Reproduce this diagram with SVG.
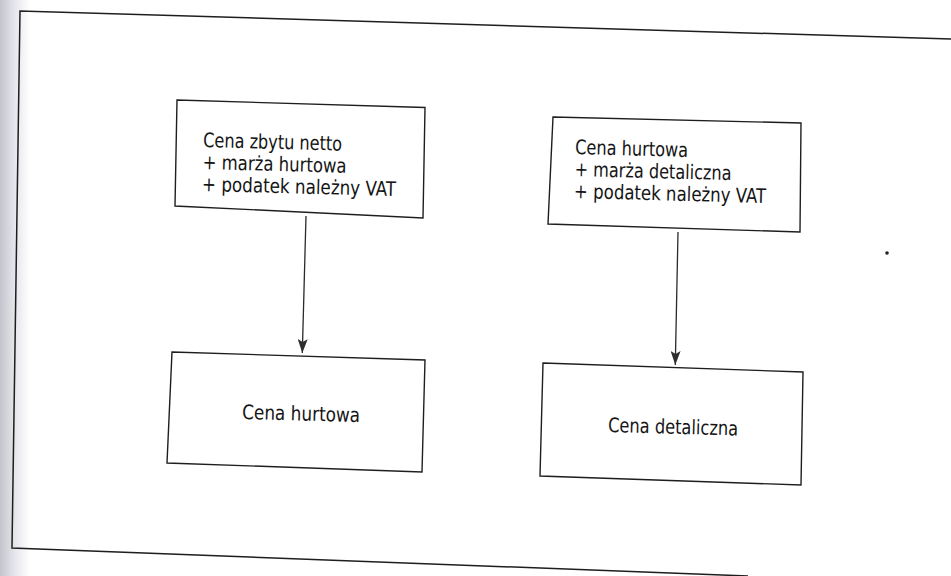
<svg xmlns="http://www.w3.org/2000/svg" width="951" height="576" viewBox="0 0 951 576">
<style>
.box{fill:#ffffff;stroke:#1e1e1e;stroke-width:1.4;stroke-linejoin:miter}
.frame{fill:none;stroke:#1e1e1e;stroke-width:1.5}
.edge{fill:none;stroke:#2a2a2a;stroke-width:1.3}
text{font-family:"Liberation Sans Narrow","DejaVu Sans Condensed","Liberation Sans",sans-serif;font-size:20px;fill:#151515}
</style>
<defs>
<linearGradient id="spine" x1="0" y1="0" x2="1" y2="0">
<stop offset="0" stop-color="#c4c4cc"/>
<stop offset="0.5" stop-color="#e6e6ec"/>
<stop offset="1" stop-color="#ffffff"/>
</linearGradient>
<marker id="arr" viewBox="0 0 14 10" refX="14" refY="5" markerWidth="14" markerHeight="10" markerUnits="userSpaceOnUse" orient="auto">
<path d="M0,0 L14,5 L0,10 L3,5 Z" fill="#2e2e2e"/>
</marker>
</defs>
<rect x="0" y="0" width="951" height="576" fill="#ffffff"/>
<rect x="0" y="0" width="30" height="576" fill="url(#spine)"/>
<polyline class="frame" points="951,39 20,11 12,548 748,576"/>
<g id="connectors">
<line class="edge" x1="306" y1="216" x2="302.3" y2="353" marker-end="url(#arr)"/>
<line class="edge" x1="678" y1="232" x2="675.3" y2="365" marker-end="url(#arr)"/>
</g>
<g id="node-cena-zbytu">
<polygon class="box" points="177,100 425,107.5 423,218 175,206"/>
<g transform="rotate(1.5 203 147)">
<text x="203" y="147" textLength="139" lengthAdjust="spacingAndGlyphs">Cena zbytu netto</text>
<text x="203" y="169" textLength="144" lengthAdjust="spacingAndGlyphs">+ marża hurtowa</text>
<text x="203" y="191" textLength="194" lengthAdjust="spacingAndGlyphs">+ podatek należny VAT</text>
</g>
</g>
<g id="node-cena-hurtowa-sklad">
<polygon class="box" points="553,117 801,123 800,232 548,224"/>
<g transform="rotate(1.5 575 154)">
<text x="575" y="154" textLength="113" lengthAdjust="spacingAndGlyphs">Cena hurtowa</text>
<text x="575" y="176" textLength="157" lengthAdjust="spacingAndGlyphs">+ marża detaliczna</text>
<text x="575" y="198" textLength="192" lengthAdjust="spacingAndGlyphs">+ podatek należny VAT</text>
</g>
</g>
<g id="node-cena-hurtowa">
<polygon class="box" points="172,352 425,360 422,472 167,463"/>
<text x="242" y="419" textLength="118" lengthAdjust="spacingAndGlyphs" transform="rotate(1.5 242 419)">Cena hurtowa</text>
</g>
<g id="node-cena-detaliczna">
<polygon class="box" points="543,363 803,372 801,485 540,476"/>
<text x="608" y="432" textLength="130" lengthAdjust="spacingAndGlyphs" transform="rotate(1.5 608 432)">Cena detaliczna</text>
</g>
<circle cx="887" cy="253" r="1.8" fill="#222"/>
</svg>
